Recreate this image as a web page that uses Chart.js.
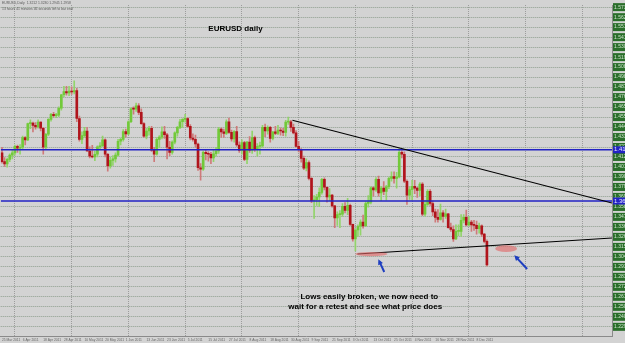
<!DOCTYPE html>
<html>
<head>
<meta charset="utf-8">
<title>EURUSD daily</title>
<script src="https://cdn.jsdelivr.net/npm/chart.js@4.4.1/dist/chart.umd.min.js"></script>
<style>
  html, body { margin: 0; padding: 0; background: #d3d3d3; }
  canvas { display: block; }
</style>
</head>
<body>
<canvas id="eurusdChart" width="625" height="343"></canvas>
<script>
// EURUSD daily bars, 25 Mar 2011 .. 14 Dec 2011
const opens = [
  1.4165, 1.4070, 1.4045, 1.4095, 1.4140, 1.4165, 1.4235, 1.4215, 1.4225, 1.4330,
  1.4305, 1.4480, 1.4485, 1.4460, 1.4445, 1.4495, 1.4430, 1.4225, 1.4365, 1.4525,
  1.4580, 1.4565, 1.4570, 1.4645, 1.4790, 1.4825, 1.4810, 1.4830, 1.4820, 1.4835,
  1.4535, 1.4310, 1.4350, 1.4400, 1.4185, 1.4130, 1.4120, 1.4150, 1.4230, 1.4240,
  1.4305, 1.4150, 1.4025, 1.4085, 1.4100, 1.4140, 1.4290, 1.4310, 1.4395, 1.4370,
  1.4500, 1.4640, 1.4635, 1.4670, 1.4600, 1.4480, 1.4345, 1.4400, 1.4430, 1.4195,
  1.4150, 1.4310, 1.4335, 1.4390, 1.4360, 1.4225, 1.4170, 1.4280, 1.4380, 1.4440,
  1.4500, 1.4525, 1.4535, 1.4450, 1.4325, 1.4310, 1.4260, 1.4005, 1.3990, 1.4170,
  1.4155, 1.4150, 1.4110, 1.4155, 1.4185, 1.4420, 1.4390, 1.4375, 1.4500, 1.4385,
  1.4315, 1.4395, 1.4250, 1.4190, 1.4275, 1.4095, 1.4280, 1.4195, 1.4330, 1.4200,
  1.4235, 1.4240, 1.4440, 1.4400, 1.4440, 1.4320, 1.4390, 1.4375, 1.4410, 1.4400,
  1.4385, 1.4495, 1.4500, 1.4440, 1.4380, 1.4235, 1.4200, 1.4105, 1.4000, 1.4060,
  1.3890, 1.3650, 1.3660, 1.3690, 1.3740, 1.3880, 1.3795, 1.3690, 1.3710, 1.3595,
  1.3465, 1.3500, 1.3505, 1.3590, 1.3545, 1.3600, 1.3395, 1.3240, 1.3335, 1.3375,
  1.3420, 1.3380, 1.3620, 1.3635, 1.3790, 1.3765, 1.3880, 1.3735, 1.3785, 1.3750,
  1.3800, 1.3890, 1.3910, 1.3890, 1.3905, 1.4170, 1.4150, 1.3860, 1.3710, 1.3770,
  1.3805, 1.3785, 1.3760, 1.3830, 1.3505, 1.3610, 1.3750, 1.3620, 1.3530, 1.3470,
  1.3450, 1.3520, 1.3480, 1.3510, 1.3360, 1.3340, 1.3240, 1.3320, 1.3320, 1.3440,
  1.3470, 1.3390, 1.3420, 1.3390, 1.3385, 1.3350, 1.3380, 1.3290, 1.3212
];
const highs = [
  1.4225, 1.4115, 1.4110, 1.4155, 1.4195, 1.4250, 1.4250, 1.4255, 1.4345, 1.4340,
  1.4485, 1.4520, 1.4495, 1.4490, 1.4520, 1.4500, 1.4440, 1.4375, 1.4535, 1.4590,
  1.4600, 1.4590, 1.4660, 1.4795, 1.4880, 1.4880, 1.4880, 1.4875, 1.4940, 1.4860,
  1.4560, 1.4390, 1.4440, 1.4440, 1.4230, 1.4245, 1.4185, 1.4240, 1.4275, 1.4345,
  1.4315, 1.4160, 1.4120, 1.4135, 1.4165, 1.4310, 1.4325, 1.4415, 1.4420, 1.4510,
  1.4650, 1.4660, 1.4700, 1.4695, 1.4640, 1.4490, 1.4430, 1.4450, 1.4450, 1.4225,
  1.4330, 1.4350, 1.4445, 1.4450, 1.4375, 1.4290, 1.4295, 1.4390, 1.4450, 1.4525,
  1.4535, 1.4580, 1.4545, 1.4470, 1.4370, 1.4355, 1.4270, 1.4050, 1.4185, 1.4200,
  1.4180, 1.4170, 1.4195, 1.4225, 1.4440, 1.4435, 1.4420, 1.4520, 1.4540, 1.4410,
  1.4405, 1.4450, 1.4285, 1.4305, 1.4290, 1.4290, 1.4340, 1.4400, 1.4345, 1.4265,
  1.4280, 1.4460, 1.4475, 1.4455, 1.4450, 1.4395, 1.4450, 1.4460, 1.4435, 1.4430,
  1.4515, 1.4550, 1.4515, 1.4475, 1.4405, 1.4290, 1.4210, 1.4130, 1.4100, 1.4080,
  1.3900, 1.3705, 1.3720, 1.3790, 1.3890, 1.3895, 1.3800, 1.3780, 1.3720, 1.3600,
  1.3530, 1.3545, 1.3620, 1.3630, 1.3675, 1.3615, 1.3400, 1.3350, 1.3390, 1.3445,
  1.3495, 1.3640, 1.3705, 1.3800, 1.3800, 1.3900, 1.3915, 1.3805, 1.3855, 1.3815,
  1.3905, 1.3960, 1.3960, 1.3955, 1.4210, 1.4190, 1.4175, 1.3875, 1.3800, 1.3870,
  1.3870, 1.3795, 1.3845, 1.3845, 1.3655, 1.3770, 1.3770, 1.3645, 1.3560, 1.3555,
  1.3615, 1.3545, 1.3560, 1.3515, 1.3410, 1.3380, 1.3390, 1.3390, 1.3500, 1.3500,
  1.3550, 1.3480, 1.3440, 1.3440, 1.3430, 1.3410, 1.3390, 1.3300, 1.3230
];
const lows = [
  1.4055, 1.4020, 1.4010, 1.4070, 1.4100, 1.4140, 1.4170, 1.4150, 1.4210, 1.4250,
  1.4295, 1.4425, 1.4390, 1.4420, 1.4430, 1.4400, 1.4150, 1.4200, 1.4350, 1.4505,
  1.4550, 1.4545, 1.4555, 1.4625, 1.4770, 1.4785, 1.4780, 1.4795, 1.4800, 1.4500,
  1.4290, 1.4265, 1.4330, 1.4180, 1.4110, 1.4110, 1.4080, 1.4120, 1.4205, 1.4235,
  1.4120, 1.3968, 1.4000, 1.4030, 1.4065, 1.4130, 1.4250, 1.4290, 1.4335, 1.4360,
  1.4490, 1.4580, 1.4610, 1.4575, 1.4470, 1.4330, 1.4315, 1.4355, 1.4180, 1.4070,
  1.4140, 1.4220, 1.4315, 1.4320, 1.4100, 1.4135, 1.4150, 1.4260, 1.4345, 1.4425,
  1.4440, 1.4495, 1.4440, 1.4305, 1.4290, 1.4225, 1.3975, 1.3870, 1.3975, 1.4090,
  1.4075, 1.4050, 1.4070, 1.4130, 1.4160, 1.4330, 1.4330, 1.4360, 1.4375, 1.4290,
  1.4280, 1.4235, 1.4170, 1.4150, 1.4080, 1.4050, 1.4170, 1.4160, 1.4180, 1.4130,
  1.4150, 1.4225, 1.4340, 1.4365, 1.4280, 1.4305, 1.4360, 1.4360, 1.4355, 1.4350,
  1.4345, 1.4470, 1.4395, 1.4370, 1.4225, 1.4175, 1.4065, 1.3985, 1.3970, 1.3875,
  1.3630, 1.3460, 1.3600, 1.3585, 1.3720, 1.3765, 1.3635, 1.3650, 1.3580, 1.3360,
  1.3385, 1.3360, 1.3480, 1.3520, 1.3500, 1.3385, 1.3215, 1.3110, 1.3265, 1.3280,
  1.3355, 1.3375, 1.3580, 1.3615, 1.3700, 1.3750, 1.3700, 1.3650, 1.3715, 1.3655,
  1.3780, 1.3860, 1.3840, 1.3785, 1.3895, 1.4110, 1.3845, 1.3610, 1.3665, 1.3655,
  1.3725, 1.3685, 1.3705, 1.3490, 1.3485, 1.3600, 1.3600, 1.3490, 1.3420, 1.3420,
  1.3440, 1.3420, 1.3460, 1.3355, 1.3320, 1.3213, 1.3230, 1.3275, 1.3265, 1.3410,
  1.3380, 1.3380, 1.3320, 1.3330, 1.3290, 1.3300, 1.3265, 1.3195, 1.2945
];
const closes = [
  1.4070, 1.4045, 1.4095, 1.4140, 1.4165, 1.4235, 1.4215, 1.4225, 1.4330, 1.4305,
  1.4480, 1.4485, 1.4460, 1.4445, 1.4495, 1.4430, 1.4225, 1.4365, 1.4525, 1.4580,
  1.4565, 1.4570, 1.4645, 1.4790, 1.4825, 1.4810, 1.4830, 1.4820, 1.4835, 1.4535,
  1.4310, 1.4350, 1.4400, 1.4185, 1.4130, 1.4120, 1.4150, 1.4230, 1.4240, 1.4305,
  1.4150, 1.4025, 1.4085, 1.4100, 1.4140, 1.4290, 1.4310, 1.4395, 1.4370, 1.4500,
  1.4640, 1.4635, 1.4670, 1.4600, 1.4480, 1.4345, 1.4400, 1.4430, 1.4195, 1.4150,
  1.4310, 1.4335, 1.4390, 1.4360, 1.4225, 1.4170, 1.4280, 1.4380, 1.4440, 1.4500,
  1.4525, 1.4535, 1.4450, 1.4325, 1.4310, 1.4260, 1.4005, 1.3990, 1.4170, 1.4155,
  1.4150, 1.4110, 1.4155, 1.4185, 1.4420, 1.4390, 1.4375, 1.4500, 1.4385, 1.4315,
  1.4395, 1.4250, 1.4190, 1.4275, 1.4095, 1.4280, 1.4195, 1.4330, 1.4200, 1.4235,
  1.4240, 1.4440, 1.4400, 1.4440, 1.4320, 1.4390, 1.4375, 1.4410, 1.4400, 1.4385,
  1.4495, 1.4500, 1.4440, 1.4380, 1.4235, 1.4200, 1.4105, 1.4000, 1.4060, 1.3890,
  1.3650, 1.3660, 1.3690, 1.3740, 1.3880, 1.3795, 1.3690, 1.3710, 1.3595, 1.3465,
  1.3500, 1.3505, 1.3590, 1.3545, 1.3600, 1.3395, 1.3240, 1.3335, 1.3375, 1.3420,
  1.3380, 1.3620, 1.3635, 1.3790, 1.3765, 1.3880, 1.3735, 1.3785, 1.3750, 1.3800,
  1.3890, 1.3910, 1.3890, 1.3905, 1.4170, 1.4150, 1.3860, 1.3710, 1.3770, 1.3805,
  1.3785, 1.3760, 1.3830, 1.3505, 1.3610, 1.3750, 1.3620, 1.3530, 1.3470, 1.3450,
  1.3520, 1.3480, 1.3510, 1.3360, 1.3340, 1.3240, 1.3320, 1.3320, 1.3440, 1.3470,
  1.3390, 1.3420, 1.3390, 1.3385, 1.3350, 1.3380, 1.3290, 1.3212, 1.2958
];

// time axis labels, one every 8 bars
const dateLabels = [
  "25 Mar 2011", "6 Apr 2011", "18 Apr 2011", "28 Apr 2011", "10 May 2011", "20 May 2011",
  "1 Jun 2011", "13 Jun 2011", "23 Jun 2011", "5 Jul 2011", "15 Jul 2011", "27 Jul 2011",
  "8 Aug 2011", "18 Aug 2011", "30 Aug 2011", "9 Sep 2011", "21 Sep 2011", "3 Oct 2011",
  "13 Oct 2011", "25 Oct 2011", "4 Nov 2011", "16 Nov 2011", "28 Nov 2011", "8 Dec 2011"
];

// price axis labels
const priceTicks = [
  1.5733, 1.5625, 1.5518, 1.5410, 1.5303, 1.5195, 1.5088, 1.4980, 1.4873, 1.4765,
  1.4658, 1.4550, 1.4443, 1.4335, 1.4228, 1.4121, 1.4013, 1.3906, 1.3798, 1.3691,
  1.3583, 1.3476, 1.3368, 1.3261, 1.3153, 1.3046, 1.2938, 1.2831, 1.2723, 1.2616,
  1.2508, 1.2401, 1.2293
];

// objects drawn on the chart, in (bar, price) coordinates
const levels = [1.4198, 1.3647];
const trendLines = [
  { from: [112.6, 1.4516], to: [236.5, 1.3625] },
  { from: [137.8, 1.3077], to: [204.8, 1.3194], ray: true }
];
const ellipses = [
  { from: [137.0, 1.3099], to: [149.4, 1.3053] },
  { from: [191.2, 1.3170], to: [199.7, 1.3099] }
];
const arrows = [
  { from: [148.2, 1.2883], to: [145.9, 1.3021] },
  { from: [203.6, 1.2915], to: [198.6, 1.3064] }
];
const notes = [
  { at: [80.0, 1.5502], text: "EURUSD daily" },
  { at: [115.7, 1.2618], text: "Lows easily broken, we now need to" },
  { at: [111.0, 1.2512], text: "wait for a retest and see what price does" }
];

const totalSlots = 237; // bars plus the empty shift on the right
const slots = Array.from({ length: totalSlots }, (_, i) => i);

const bull = "#72c93a";
const bear = "#b0141c";
const bullWick = "#92d46a";
const bearWick = "#cf7a7a";
const isUp = i => closes[i] >= opens[i];

const FONT = '"Liberation Sans", Arial, sans-serif';
Chart.defaults.font.family = FONT;

const bgPlugin = {
  id: "bg",
  beforeDraw(chart) {
    const c = chart.ctx;
    c.save();
    c.fillStyle = "#d3d3d3";
    c.fillRect(0, 0, chart.width, chart.height);
    c.restore();
  }
};

const objectsPlugin = {
  id: "objects",
  afterDatasetsDraw(chart) {
    const { ctx, chartArea: a, scales: { x, y } } = chart;
    const px = v => x.getPixelForValue(v);
    const py = v => y.getPixelForValue(v);
    ctx.save();
    ctx.beginPath();
    ctx.rect(a.left, a.top, a.right - a.left, a.bottom - a.top);
    ctx.clip();

    // blue levels
    ctx.strokeStyle = "#2222c4";
    ctx.lineWidth = 1.4;
    levels.forEach(p => {
      const yy = py(p);
      ctx.beginPath();
      ctx.moveTo(a.left, yy);
      ctx.lineTo(a.right, yy);
      ctx.stroke();
    });

    // trend lines
    ctx.strokeStyle = "#000";
    ctx.lineWidth = 1.1;
    trendLines.forEach(t => {
      const x1 = px(t.from[0]), y1 = py(t.from[1]);
      const x2 = px(t.to[0]), y2 = py(t.to[1]);
      let ex = x2, ey = y2;
      if (t.ray) {
        ex = a.right;
        ey = y1 + (y2 - y1) * (ex - x1) / (x2 - x1);
      }
      ctx.beginPath();
      ctx.moveTo(x1, y1);
      ctx.lineTo(ex, ey);
      ctx.stroke();
    });

    // red highlights
    ctx.fillStyle = "rgba(226, 104, 104, 0.62)";
    ellipses.forEach(e => {
      const x1 = px(e.from[0]), x2 = px(e.to[0]);
      const y1 = py(e.from[1]), y2 = py(e.to[1]);
      ctx.beginPath();
      ctx.ellipse((x1 + x2) / 2, (y1 + y2) / 2, Math.abs(x2 - x1) / 2, Math.abs(y2 - y1) / 2, 0, 0, Math.PI * 2);
      ctx.fill();
    });

    // arrows
    ctx.strokeStyle = "#1f3fc0";
    ctx.fillStyle = "#1f3fc0";
    ctx.lineWidth = 2;
    arrows.forEach(ar => {
      const x1 = px(ar.from[0]), y1 = py(ar.from[1]);
      const x2 = px(ar.to[0]), y2 = py(ar.to[1]);
      const ang = Math.atan2(y2 - y1, x2 - x1);
      ctx.beginPath();
      ctx.moveTo(x1, y1);
      ctx.lineTo(x2 - 3 * Math.cos(ang), y2 - 3 * Math.sin(ang));
      ctx.stroke();
      ctx.beginPath();
      ctx.moveTo(x2, y2);
      ctx.lineTo(x2 - 6 * Math.cos(ang - 0.45), y2 - 6 * Math.sin(ang - 0.45));
      ctx.lineTo(x2 - 6 * Math.cos(ang + 0.45), y2 - 6 * Math.sin(ang + 0.45));
      ctx.closePath();
      ctx.fill();
    });

    // text notes
    ctx.fillStyle = "#000";
    ctx.font = "bold 8px " + FONT;
    ctx.textBaseline = "middle";
    ctx.textAlign = "left";
    notes.forEach(n => ctx.fillText(n.text, px(n.at[0]), py(n.at[1])));
    ctx.restore();
  },
  afterDraw(chart) {
    const { ctx, chartArea: a, scales: { y } } = chart;
    ctx.save();
    // level labels on the price axis
    ctx.font = "6px " + FONT;
    ctx.textBaseline = "middle";
    levels.forEach(p => {
      const yy = y.getPixelForValue(p);
      ctx.fillStyle = "#2222c4";
      ctx.fillRect(a.right + 1, yy - 3.5, 16, 7);
      ctx.fillStyle = "#e8e8ff";
      ctx.fillText(p.toFixed(4), a.right + 2, yy);
    });
    // MT4 header
    const last = closes.length - 1;
    ctx.fillStyle = "#5a5a5a";
    ctx.font = "3.4px " + FONT;
    ctx.textBaseline = "top";
    ctx.fillText("EURUSD,Daily  " + opens[last].toFixed(4) + " " + highs[last].toFixed(4) + " " +
      lows[last].toFixed(4) + " " + closes[last].toFixed(4), 2, 1.5);
    ctx.fillText("13 hours 41 minutes 46 seconds left to bar end", 2, 7);
    ctx.restore();
  }
};

const ctx = document.getElementById("eurusdChart");
new Chart(ctx, {
  type: "bar",
  data: {
    labels: slots,
    datasets: [
      {
        label: "body",
        data: opens.map((o, i) => [o, closes[i]]),
        backgroundColor: c => (isUp(c.dataIndex) ? bull : bear),
        barThickness: 2,
        minBarLength: 1,
        grouped: false,
        order: 0
      },
      {
        label: "wick",
        data: lows.map((l, i) => [l, highs[i]]),
        backgroundColor: c => (isUp(c.dataIndex) ? bullWick : bearWick),
        barThickness: 1,
        grouped: false,
        order: 1
      }
    ]
  },
  options: {
    responsive: false,
    animation: false,
    devicePixelRatio: 1,
    layout: { padding: 0 },
    plugins: {
      legend: { display: false },
      tooltip: { enabled: false }
    },
    scales: {
      x: {
        type: "category",
        offset: true,
        afterFit: s => { s.height = 7; },
        grid: {
          offset: false,
          drawTicks: false,
          color: c => (c.index % 22 === 5 ? "#9c9c9c" : "rgba(0,0,0,0)")
        },
        border: { color: "#8a8a8a", dash: [1, 1] },
        ticks: {
          autoSkip: false,
          maxRotation: 0,
          align: "start",
          padding: 2,
          color: "#666",
          font: { size: 3.3 },
          callback: (v, i) => (i % 8 === 0 && dateLabels[i / 8] ? dateLabels[i / 8] : "")
        }
      },
      y: {
        position: "right",
        min: 1.21944,
        max: 1.5756,
        afterBuildTicks: s => { s.ticks = priceTicks.map(v => ({ value: v })); },
        afterFit: s => { s.width = 13; },
        grid: { color: "#8f9f8f", drawTicks: false },
        border: { color: "#8a8a8a", dash: [1, 1] },
        ticks: {
          padding: 2,
          color: "#cfe6cf",
          font: { size: 5 },
          showLabelBackdrop: true,
          backdropColor: "#2a6e2a",
          backdropPadding: 1,
          callback: v => v.toFixed(4)
        }
      }
    }
  },
  plugins: [bgPlugin, objectsPlugin]
});
</script>
</body>
</html>
